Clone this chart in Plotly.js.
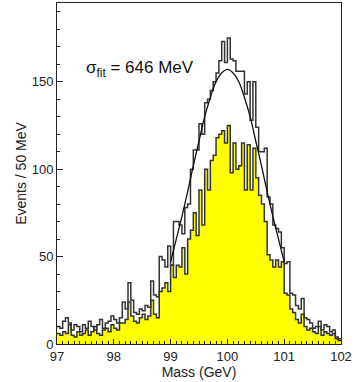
<!DOCTYPE html>
<html>
<head>
<meta charset="utf-8">
<script src="https://cdn.plot.ly/plotly-3.0.1.min.js"></script>
<style>
  html, body { margin: 0; padding: 0; background: #fff; }
  #chart { width: 364px; height: 382px; }
</style>
</head>
<body>
<div id="chart"></div>
<script>
// Binning: 100 bins of 50 MeV from 97 to 102 GeV
const binStart = 97.0;
const binWidth = 0.05;

// All events (open histogram)
const allCounts = [
  10, 9, 13, 15, 12, 8, 11, 10, 7, 11, 9, 13, 10, 8, 11, 14, 9, 12, 13, 16,
  14, 12, 15, 24, 20, 35, 25, 18, 17, 20, 19, 22, 21, 36, 28, 27, 50, 48, 44, 56,
  45, 70, 70, 68, 63, 78, 80, 100, 111, 111, 126, 120, 138, 140, 145, 150, 155, 162, 173, 161,
  175, 163, 162, 156, 156, 156, 143, 150, 128, 150, 124, 110, 110, 112, 84, 80, 68, 66, 64, 55,
  46, 47, 29, 28, 22, 20, 26, 15, 14, 12, 9, 10, 13, 8, 11, 10, 7, 8, 4, 3
];

// Selected events (yellow histogram)
const selCounts = [
  6, 5, 7, 6, 11, 5, 4, 7, 5, 6, 8, 5, 7, 10, 6, 5, 8, 9, 7, 11,
  9, 8, 12, 12, 14, 24, 16, 13, 12, 15, 17, 14, 16, 25, 17, 15, 30, 32, 35, 30,
  45, 38, 45, 44, 55, 40, 60, 65, 75, 62, 88, 68, 100, 88, 105, 108, 118, 120, 122, 115,
  125, 98, 115, 100, 102, 115, 88, 114, 88, 112, 95, 85, 80, 70, 51, 48, 44, 48, 44, 47,
  29, 28, 20, 18, 14, 12, 17, 10, 8, 9, 7, 6, 10, 5, 7, 6, 5, 6, 3, 2
];

// Gaussian fit curve
const fitMass = [99.0, 99.1, 99.2, 99.3, 99.4, 99.5, 99.6, 99.7, 99.8, 99.9, 100.0,
                 100.1, 100.2, 100.3, 100.4, 100.5, 100.6, 100.7, 100.8, 100.9, 101.0];
const fitCounts = [47, 60, 73, 87, 102, 116, 130, 141, 150, 155, 157,
                   155, 150, 141, 130, 116, 102, 87, 73, 60, 47];

// bin edges + repeat last value so the 'hv' step closes at 102
const edges = allCounts.map((_, i) => binStart + i * binWidth);
edges.push(binStart + allCounts.length * binWidth);
const stepAll = allCounts.concat([allCounts[allCounts.length - 1]]);
const stepSel = selCounts.concat([selCounts[selCounts.length - 1]]);

const selTrace = {
  type: "scatter",
  mode: "lines",
  x: edges,
  y: stepSel,
  line: { shape: "hv", color: "#333333", width: 1.5 },
  fill: "tozeroy",
  fillcolor: "#ffff00",
  hoverinfo: "skip"
};

const allTrace = {
  type: "scatter",
  mode: "lines",
  x: edges,
  y: stepAll,
  line: { shape: "hv", color: "#333333", width: 1.5 },
  hoverinfo: "skip"
};

const fitTrace = {
  type: "scatter",
  mode: "lines",
  x: fitMass,
  y: fitCounts,
  line: { shape: "spline", color: "#111111", width: 1.3 },
  hoverinfo: "skip"
};

const layout = {
  width: 364,
  height: 382,
  margin: { l: 57, r: 23, t: 3, b: 38 },
  paper_bgcolor: "#ffffff",
  plot_bgcolor: "#ffffff",
  showlegend: false,
  font: { family: "Liberation Sans, Arial, sans-serif", color: "#222", size: 13 },
  xaxis: {
    range: [97, 102],
    tickvals: [97, 98, 99, 100, 101, 102],
    ticks: "inside",
    ticklen: 5,
    tickcolor: "#222",
    minor: { dtick: 0.1, ticks: "inside", ticklen: 3, tickcolor: "#222" },
    showline: true,
    linecolor: "#222",
    linewidth: 1,
    mirror: true,
    showgrid: false,
    zeroline: false,
    title: { text: "Mass (GeV)", font: { size: 14 }, standoff: 1 }
  },
  yaxis: {
    range: [0, 195],
    tickvals: [0, 50, 100, 150],
    ticks: "inside",
    ticklen: 6,
    tickcolor: "#222",
    minor: { dtick: 10, ticks: "inside", ticklen: 3, tickcolor: "#222" },
    showline: true,
    linecolor: "#222",
    linewidth: 1,
    mirror: true,
    showgrid: false,
    zeroline: false,
    title: { text: "Events / 50 MeV", font: { size: 14 }, standoff: 1 }
  },
  annotations: [{
    xref: "x", yref: "y",
    x: 97.47, y: 157,
    xanchor: "left", yanchor: "middle",
    text: "σ<sub>fit</sub> = 646 MeV",
    showarrow: false,
    font: { size: 17, color: "#111" }
  }]
};

Plotly.newPlot("chart", [selTrace, allTrace, fitTrace], layout, { staticPlot: true, displayModeBar: false });
</script>
</body>
</html>
